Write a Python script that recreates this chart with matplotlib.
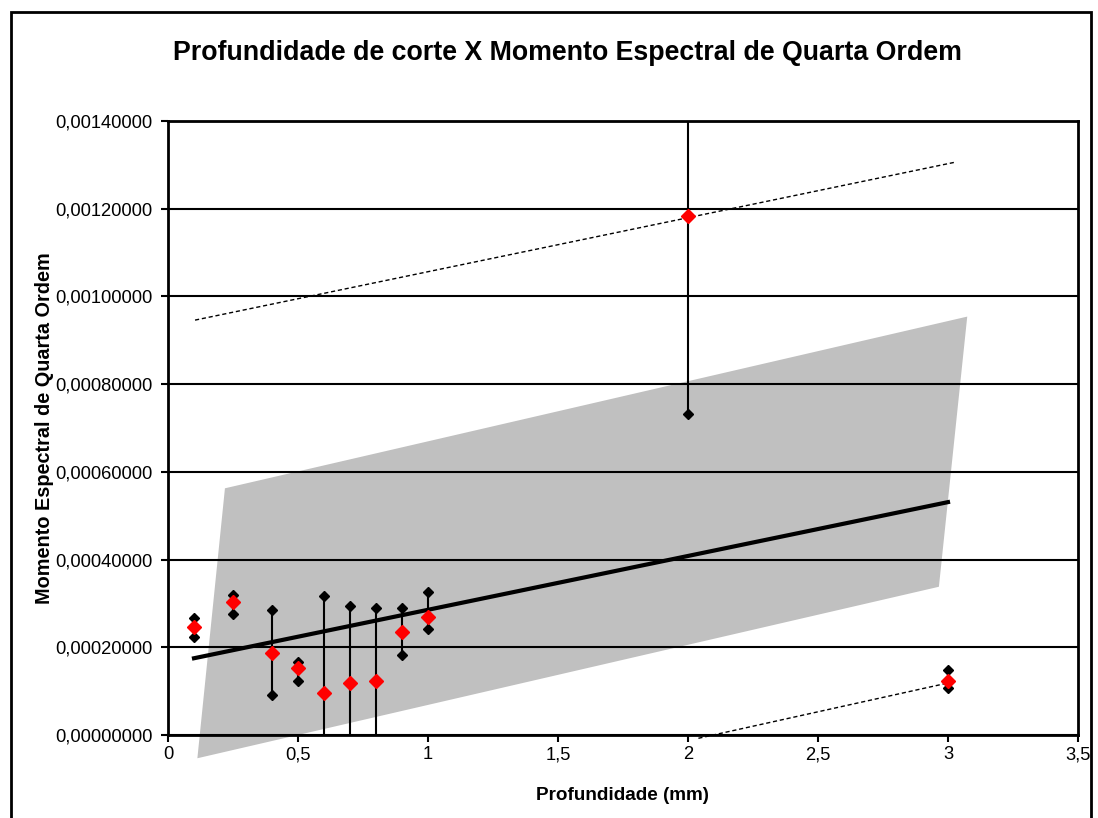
import matplotlib.pyplot as plt
from matplotlib.patches import Polygon, Rectangle
from matplotlib.ticker import MultipleLocator, FuncFormatter

plt.rcParams['font.family'] = ['Liberation Sans', 'DejaVu Sans']

# profundidade (mm) e momento espectral: media, minimo, maximo
prof = [0.1, 0.25, 0.4, 0.5, 0.6, 0.7, 0.8, 0.9, 1.0, 2.0, 3.0]
media = [0.000247, 0.000303, 0.000188, 0.000152, 0.0000965, 0.000119, 0.000124,
         0.000234, 0.000270, 0.001184, 0.000124]
minimo = [0.000223, 0.000276, 0.0000912, 0.000124, -0.00012, -0.00012, -0.00012,
          0.000182, 0.000241, 0.000732, 0.000108]
maximo = [0.000266, 0.000319, 0.000285, 0.000167, 0.000317, 0.000294, 0.000290,
          0.000290, 0.000327, 0.0016, 0.000148]

# linha de tendencia
tend_x = [0.1, 3.0]
tend_y = [0.000175, 0.000531]

# faixa cinza (intervalo de confianca)
faixa_x = [0.219, 3.074, 2.965, 0.113]
faixa_y = [0.0005625, 0.000954, 0.000338, -0.000053]

# linhas tracejadas (intervalo de previsao)
sup_x = [0.104, 3.027]
sup_y = [0.000946, 0.001306]
inf_x = [2.04, 3.0]
inf_y = [-0.0000075, 0.0001186]

fig = plt.figure(figsize=(10.98, 8.18), dpi=100)
ax = fig.add_axes([168 / 1098, 1 - 735 / 818, 910 / 1098, 614 / 818])

# moldura do grafico
fig.patches.append(Rectangle((11 / 1098, -0.05), 1080 / 1098, 1.05 - 12 / 818,
                             transform=fig.transFigure, fill=False,
                             edgecolor='black', linewidth=2))

ax.add_patch(Polygon(list(zip(faixa_x, faixa_y)), closed=True, facecolor='#c0c0c0',
                     edgecolor='none', clip_on=False, zorder=1))

ax.plot(sup_x, sup_y, color='black', linestyle=(0, (3, 2)), linewidth=1, zorder=3)
ax.plot(inf_x, inf_y, color='black', linestyle=(0, (3, 2)), linewidth=1, zorder=3,
        clip_on=False)

ax.plot(tend_x, tend_y, color='black', linewidth=3, zorder=4)

for x, lo, hi in zip(prof, minimo, maximo):
    ax.plot([x, x], [lo, hi], color='black', linewidth=1.5, zorder=5)
ax.plot(prof, minimo, linestyle='none', marker='D', markersize=5.5, color='black', zorder=6)
ax.plot(prof, maximo, linestyle='none', marker='D', markersize=5.5, color='black', zorder=6)
ax.plot(prof, media, linestyle='none', marker='D', markersize=7, color='red', zorder=7)

ax.set_xlim(0, 3.5)
ax.set_ylim(0, 0.0014)
ax.xaxis.set_major_locator(MultipleLocator(0.5))
ax.yaxis.set_major_locator(MultipleLocator(0.0002))
ax.xaxis.set_major_formatter(FuncFormatter(lambda v, p: ('%g' % v).replace('.', ',')))
ax.yaxis.set_major_formatter(FuncFormatter(lambda v, p: ('%.8f' % v).replace('.', ',')))
ax.grid(True, axis='y', color='black', linewidth=1.5, zorder=2)
ax.set_axisbelow(False)
for s in ax.spines.values():
    s.set_linewidth(2)
ax.tick_params(direction='out', length=5, width=1.5, labelsize=13.2)
ax.tick_params(axis='x', pad=3)
ax.tick_params(axis='y', pad=6)

ax.set_xlabel('Profundidade (mm)', fontsize=13.6, fontweight='bold', labelpad=17)
ax.set_ylabel('Momento Espectral de Quarta Ordem', fontsize=14.3, fontweight='bold', labelpad=1)
fig.text(567 / 1098, 1 - 53 / 818, 'Profundidade de corte X Momento Espectral de Quarta Ordem',
         ha='center', va='center', fontsize=19.3, fontweight='bold')

fig.savefig('out.png', dpi=100)
